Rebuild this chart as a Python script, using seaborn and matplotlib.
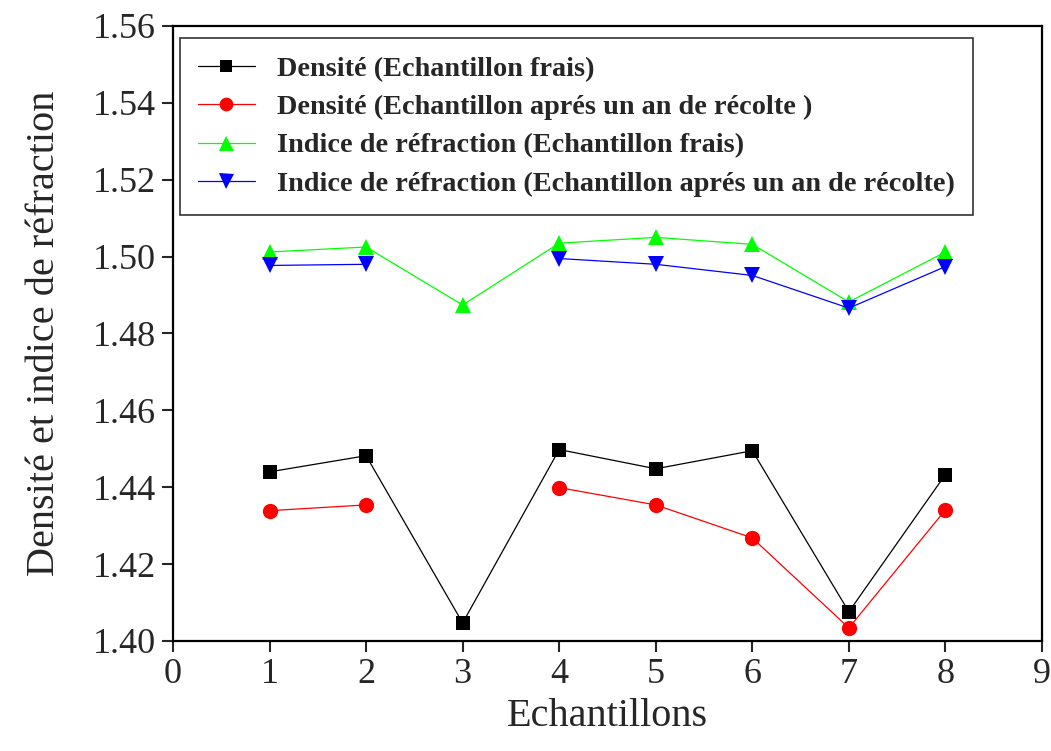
import numpy as np
import pandas as pd
import matplotlib
matplotlib.use("Agg")
import matplotlib.pyplot as plt
import seaborn as sb
from matplotlib.lines import Line2D

echantillons = [1, 2, 3, 4, 5, 6, 7, 8]
densite_frais = [1.4440, 1.4482, 1.4047, 1.4498, 1.4448, 1.4495, 1.4076, 1.4433]
densite_an = [1.4339, 1.4354, np.nan, 1.4399, 1.4354, 1.4268, 1.4034, 1.4341]
indice_frais = [1.5012, 1.5025, 1.4874, 1.5035, 1.5050, 1.5032, 1.4882, 1.5012]
indice_an = [1.4977, 1.4980, np.nan, 1.4995, 1.4980, 1.4951, 1.4866, 1.4974]

labels = [
    "Densité (Echantillon frais)",
    "Densité (Echantillon aprés un an de récolte )",
    "Indice de réfraction (Echantillon frais)",
    "Indice de réfraction (Echantillon aprés un an de récolte)",
]

sb.set_style("ticks")
plt.rcParams['font.family'] = ['Liberation Serif', 'DejaVu Serif']

fig = plt.figure(figsize=(10.51, 7.51), dpi=100)
ax = fig.add_axes([0.1646, 0.1465, 0.8268, 0.8189])

styles = [
    (densite_frais, 'black', 's', 9.5),
    (densite_an, '#ff0000', 'o', 11),
    (indice_frais, '#00ff00', '^', 12),
    (indice_an, '#0000ff', 'v', 12),
]

handles = []
for (vals, col, mk, ms), lab in zip(styles, labels):
    df = pd.DataFrame({'x': echantillons, 'y': vals})
    # split on missing values so the line breaks there
    df['seg'] = df['y'].isna().cumsum()
    df = df.dropna()
    sb.lineplot(data=df, x='x', y='y', units='seg', estimator=None,
                color=col, marker=mk, markersize=ms, markeredgewidth=0,
                linewidth=0.9, ax=ax, legend=False)
    handles.append(Line2D([], [], color=col, marker=mk, markersize=ms * 0.9,
                          markeredgewidth=0, linewidth=0.9, label=lab))

ax.set_xlim(0, 9)
ax.set_ylim(1.40, 1.56)
ax.set_xticks(range(0, 10))
yt = np.arange(1.40, 1.561, 0.02)
ax.set_yticks(yt)
ax.set_yticklabels([f"{v:.2f}" for v in yt])
ax.tick_params(axis='both', direction='out', length=8, width=1.5,
               labelsize=26, pad=4)
for s in ax.spines.values():
    s.set_linewidth(1.6)
    s.set_color('black')

ax.set_xlabel('Echantillons', fontsize=29, labelpad=5)
ax.set_ylabel('Densité et indice de réfraction', fontsize=29, labelpad=22)

leg = ax.legend(handles=handles, loc='upper left', bbox_to_anchor=(0.008, 0.981),
                prop={'weight': 'bold', 'size': 20.3}, handlelength=2.0,
                frameon=True, fancybox=False, borderpad=0.65, labelspacing=0.45,
                handletextpad=0.8, borderaxespad=0)
leg.get_frame().set_edgecolor('black')
leg.get_frame().set_linewidth(1.2)

fig.savefig('out.png', dpi=100)
